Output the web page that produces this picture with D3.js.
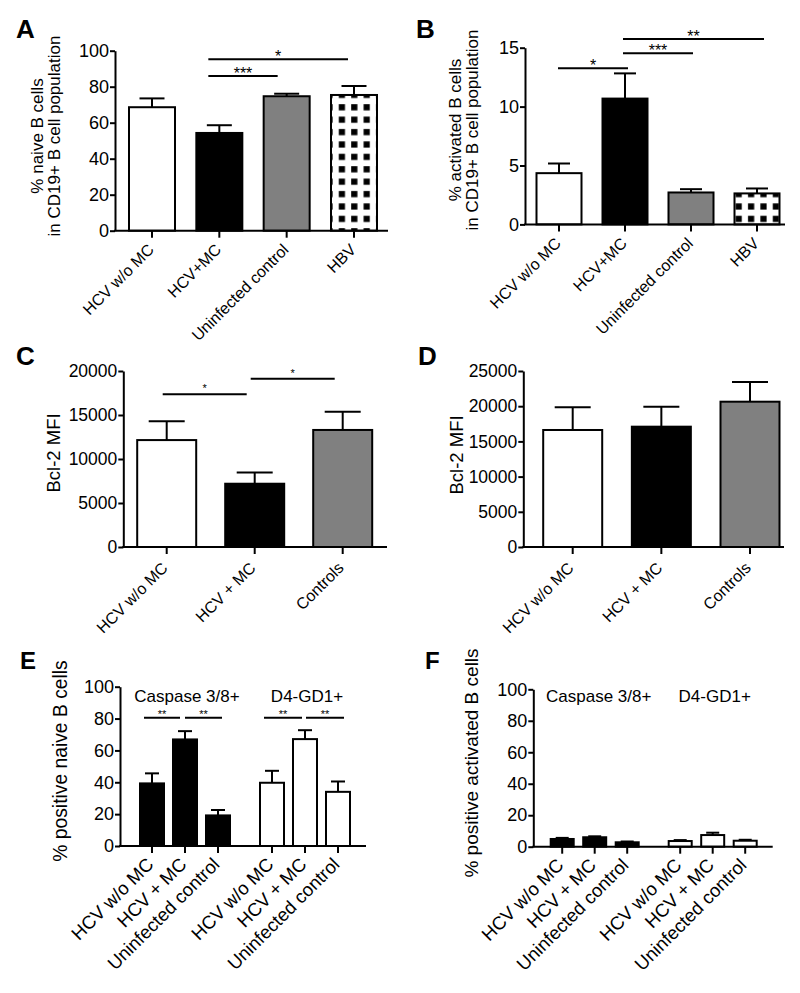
<!DOCTYPE html>
<html><head><meta charset="utf-8">
<script src="https://cdn.jsdelivr.net/npm/d3@7"></script>
<style>
body{margin:0;background:#fff}
svg{display:block}
text{font-family:"Liberation Sans",Arial,Helvetica,sans-serif;fill:#000}
</style>
</head><body>
<svg id="chart" width="800" height="993"></svg>
<script>
// ================= DATA =================
// Panel A – % naive B cells
const catsAB = ["HCV w/o MC", "HCV+MC", "Uninfected control", "HBV"];
const naiveMean  = [68.6, 54.3, 74.7, 75.4];
const naiveUpper = [73.5, 58.6, 76.1, 80.4];
const naiveTicks = [0, 20, 40, 60, 80, 100];
const naiveSig   = [[1, 2, "***", 85.9], [1, 3, "*", 95.2]];

// Panel B – % activated B cells
const activatedMean  = [4.35, 10.68, 2.71, 2.63];
const activatedUpper = [5.17, 12.82, 2.99, 3.05];
const activatedTicks = [0, 5, 10, 15];
const activatedSig   = [[0, 1, "*", 13.25], [1, 2, "***", 14.52], [1, 3, "**", 15.74]];

// Panel C – Bcl-2 MFI (naive)
const catsCD = ["HCV w/o MC", "HCV + MC", "Controls"];
const bcl2NaiveMean  = [12150, 7190, 13300];
const bcl2NaiveUpper = [14280, 8480, 15380];
const bcl2NaiveTicks = [0, 5000, 10000, 15000, 20000];
const bcl2NaiveSig   = [[0, 1, "*", 17350], [1, 2, "*", 19125]];

// Panel D – Bcl-2 MFI (activated)
const bcl2ActMean  = [16620, 17090, 20640];
const bcl2ActUpper = [19840, 19930, 23440];
const bcl2ActTicks = [0, 5000, 10000, 15000, 20000, 25000];

// Panels E / F – % positive
const groupsEF = ["Caspase 3/8+", "D4-GD1+"];
const catsEF   = ["HCV w/o MC", "HCV + MC", "Uninfected control"];
const pctTicks = [0, 20, 40, 60, 80, 100];
const naiveCaspMean  = [39.3, 66.9, 19.2];
const naiveCaspUpper = [45.6, 72.1, 22.6];
const naiveD4Mean    = [39.7, 67.1, 34.0];
const naiveD4Upper   = [47.2, 72.7, 40.5];
const naiveEFSig     = [[0, 1, "**", 80.5], [1, 2, "**", 80.5]];
const actCaspMean  = [4.9, 6.0, 2.8];
const actCaspUpper = [5.6, 6.6, 3.3];
const actD4Mean    = [3.6, 7.4, 3.8];
const actD4Upper   = [4.2, 8.9, 4.4];

// ================= DRAWING =================
const svg = d3.select("#chart");
const defs = svg.append("defs");
const pat = defs.append("pattern").attr("id", "checker")
  .attr("patternUnits", "userSpaceOnUse").attr("width", 12.4).attr("height", 12.4)
  .attr("x", 1).attr("y", 2);
pat.append("rect").attr("width", 12.4).attr("height", 12.4).attr("fill", "#fff");
pat.append("rect").attr("x", 3).attr("y", 3).attr("width", 6.2).attr("height", 6.2).attr("fill", "#000");

const FILLS = { white: "#fff", black: "#000", gray: "#808080", checker: "url(#checker)" };

function panel(cfg) {
  const g = svg.append("g");
  const y = d3.scaleLinear().domain([0, d3.max(cfg.ticks)]).range([cfg.y0, cfg.y1]);
  const items = cfg.items; // {x, mean, upper, fill, label}

  // bars
  g.selectAll("rect.bar").data(items).join("rect").attr("class", "bar")
    .attr("x", d => d.x - cfg.bw / 2).attr("y", d => y(d.mean))
    .attr("width", cfg.bw).attr("height", d => y(0) - y(d.mean))
    .attr("fill", d => FILLS[d.fill]).attr("stroke", "#000").attr("stroke-width", 2);
  // error bars
  g.selectAll("line.err").data(items).join("line").attr("class", "err")
    .attr("x1", d => d.x).attr("x2", d => d.x)
    .attr("y1", d => y(d.mean)).attr("y2", d => y(d.upper))
    .attr("stroke", "#000").attr("stroke-width", 2);
  g.selectAll("line.cap").data(items).join("line").attr("class", "cap")
    .attr("x1", d => d.x - cfg.cap / 2).attr("x2", d => d.x + cfg.cap / 2)
    .attr("y1", d => y(d.upper)).attr("y2", d => y(d.upper))
    .attr("stroke", "#000").attr("stroke-width", 2);

  // x axis line + ticks
  g.append("line").attr("x1", cfg.axisX - 1).attr("x2", cfg.axisRight)
    .attr("y1", y(0)).attr("y2", y(0)).attr("stroke", "#000").attr("stroke-width", 2);
  g.selectAll("line.xt").data(items).join("line").attr("class", "xt")
    .attr("x1", d => d.x).attr("x2", d => d.x)
    .attr("y1", y(0)).attr("y2", y(0) + 7).attr("stroke", "#000").attr("stroke-width", 2);
  g.selectAll("text.xl").data(items).join("text").attr("class", "xl")
    .attr("transform", d => `translate(${d.x + cfg.lblDx},${y(0) + cfg.lblDy}) rotate(-45)`)
    .attr("text-anchor", "end").attr("dy", "0.35em")
    .style("font-size", cfg.lblSize + "px").text(d => d.label);

  // y axis
  const ya = g.append("g").attr("transform", `translate(${cfg.axisX},0)`)
    .call(d3.axisLeft(y).tickValues(cfg.ticks).tickSize(5).tickPadding(1)
      .tickSizeOuter(0).tickFormat(d3.format("d")));
  ya.select(".domain").attr("stroke-width", 2);
  ya.selectAll(".tick line").attr("stroke-width", 2);
  ya.selectAll(".tick text").style("font-size", cfg.tickSize + "px")
    .style("font-family", '"Liberation Sans",Arial,sans-serif');

  // y label(s)
  cfg.ylab.forEach(l => {
    g.append("text").attr("transform", `translate(${l.x},${cfg.ylabY}) rotate(-90)`)
      .attr("text-anchor", "middle").attr("dy", "0.35em")
      .style("font-size", cfg.ylabSize + "px").text(l.t);
  });

  // significance bars
  (cfg.sig || []).forEach((s, k) => {
    const [i, j, lab, lvl] = s;
    const off = cfg.sigOff[k];
    const xs = cfg.sigX(i, off[0]), xe = cfg.sigX(j, off[1]);
    g.append("line").attr("x1", xs).attr("x2", xe).attr("y1", y(lvl)).attr("y2", y(lvl))
      .attr("stroke", "#000").attr("stroke-width", 2);
    g.append("text").attr("x", (xs + xe) / 2).attr("y", y(lvl) - cfg.starGap + 0.58 * cfg.starSize)
      .attr("text-anchor", "middle").style("font-size", cfg.starSize + "px").text(lab);
  });

  // group labels
  (cfg.groupLabels || []).forEach(gl => {
    g.append("text").attr("x", gl.x).attr("y", cfg.groupY).attr("text-anchor", "middle")
      .style("font-size", "17px").text(gl.t);
  });

  // panel letter
  g.append("text").attr("x", cfg.letter[1]).attr("y", cfg.letter[2])
    .style("font-size", cfg.letter[3] + "px").style("font-weight", "bold").text(cfg.letter[0]);
}

// ---------- Panel A ----------
{
  const x = d3.scalePoint().domain(catsAB).range([152, 354]);
  const fills = ["white", "black", "gray", "checker"];
  panel({
    y0: 230.7, y1: 50.7, ticks: naiveTicks, axisX: 115, axisRight: 388, bw: 46, cap: 25,
    items: catsAB.map((c, i) => ({ x: x(c), mean: naiveMean[i], upper: naiveUpper[i], fill: fills[i], label: c })),
    lblDx: -1, lblDy: 16, lblSize: 16, tickSize: 18,
    ylab: [{ x: 37, t: "% naive B cells" }, { x: 54.5, t: "in CD19+ B cell population" }], ylabY: 136, ylabSize: 17,
    sig: naiveSig, sigOff: [[-11, -9], [-11, -6]], sigX: (i, o) => x(catsAB[i]) + o, starGap: 6.5, starSize: 16,
    letter: ["A", 16, 38, 26]
  });
}
// ---------- Panel B ----------
{
  const x = d3.scalePoint().domain(catsAB).range([559, 757]);
  const fills = ["white", "black", "gray", "checker"];
  panel({
    y0: 224.4, y1: 47.7, ticks: activatedTicks, axisX: 525, axisRight: 785, bw: 45, cap: 22,
    items: catsAB.map((c, i) => ({ x: x(c), mean: activatedMean[i], upper: activatedUpper[i], fill: fills[i], label: c })),
    lblDx: -1, lblDy: 16, lblSize: 16, tickSize: 18,
    ylab: [{ x: 455, t: "% activated B cells" }, { x: 472.5, t: "in CD19+ B cell population" }], ylabY: 130, ylabSize: 17,
    sig: activatedSig, sigOff: [[-1, 3], [-2, 2], [-2, 7]], sigX: (i, o) => x(catsAB[i]) + o, starGap: 6.5, starSize: 16,
    letter: ["B", 416, 38, 26]
  });
}
// ---------- Panel C ----------
{
  const x = d3.scalePoint().domain(catsCD).range([166.7, 342.7]);
  const fills = ["white", "black", "gray"];
  panel({
    y0: 547, y1: 371, ticks: bcl2NaiveTicks, axisX: 123.3, axisRight: 387, bw: 59, cap: 36,
    items: catsCD.map((c, i) => ({ x: x(c), mean: bcl2NaiveMean[i], upper: bcl2NaiveUpper[i], fill: fills[i], label: c })),
    lblDx: -2, lblDy: 18, lblSize: 16, tickSize: 17.5,
    ylab: [{ x: 53.5, t: "Bcl-2 MFI" }], ylabY: 453, ylabSize: 18.5,
    sig: bcl2NaiveSig, sigOff: [[-4, -8], [-4, -8]], sigX: (i, o) => x(catsCD[i]) + o, starGap: 8.5, starSize: 11,
    letter: ["C", 16, 365, 26]
  });
}
// ---------- Panel D ----------
{
  const x = d3.scalePoint().domain(catsCD).range([572.7, 750]);
  const fills = ["white", "black", "gray"];
  panel({
    y0: 547, y1: 371, ticks: bcl2ActTicks, axisX: 523.3, axisRight: 784, bw: 59, cap: 36,
    items: catsCD.map((c, i) => ({ x: x(c), mean: bcl2ActMean[i], upper: bcl2ActUpper[i], fill: fills[i], label: c })),
    lblDx: -2, lblDy: 18, lblSize: 16, tickSize: 17.5,
    ylab: [{ x: 456.5, t: "Bcl-2 MFI" }], ylabY: 455, ylabSize: 18.5,
    letter: ["D", 418, 365, 26]
  });
}
// ---------- Panel E ----------
{
  const xg = d3.scalePoint().domain(groupsEF).range([185, 305]);
  const xi = d3.scalePoint().domain(catsEF).range([-33, 33]);
  const series = [[naiveCaspMean, naiveCaspUpper, "black"], [naiveD4Mean, naiveD4Upper, "white"]];
  const items = groupsEF.flatMap((gname, gi) => catsEF.map((c, ci) => ({
    x: xg(gname) + xi(c), mean: series[gi][0][ci], upper: series[gi][1][ci], fill: series[gi][2], label: c })));
  const sig = groupsEF.flatMap((gname, gi) => naiveEFSig.map(s => [gi * 3 + s[0], gi * 3 + s[1], s[2], s[3]]));
  panel({
    y0: 846, y1: 686.7, ticks: pctTicks, axisX: 120, axisRight: 366, bw: 24, cap: 14,
    items, lblDx: -2, lblDy: 15, lblSize: 18.5, tickSize: 18,
    ylab: [{ x: 60, t: "% positive naive B cells" }], ylabY: 761, ylabSize: 19.3,
    sig, sigOff: [[-8, -5], [0, 4], [-8, -3], [1, 6]], sigX: (i, o) => items[i].x + o, starGap: 6, starSize: 11,
    groupLabels: groupsEF.map(gname => ({ x: xg(gname) + 2, t: gname })), groupY: 702,
    letter: ["E", 20, 669, 24]
  });
}
// ---------- Panel F ----------
{
  const xg = d3.scalePoint().domain(groupsEF).range([594.7, 712.7]);
  const xi = d3.scalePoint().domain(catsEF).range([-32.5, 32.5]);
  const series = [[actCaspMean, actCaspUpper, "black"], [actD4Mean, actD4Upper, "white"]];
  const items = groupsEF.flatMap((gname, gi) => catsEF.map((c, ci) => ({
    x: xg(gname) + xi(c), mean: series[gi][0][ci], upper: series[gi][1][ci], fill: series[gi][2], label: c })));
  panel({
    y0: 846.7, y1: 689.3, ticks: pctTicks, axisX: 533.3, axisRight: 772.7, bw: 23, cap: 13,
    items, lblDx: -2, lblDy: 15, lblSize: 18.5, tickSize: 18,
    ylab: [{ x: 471.5, t: "% positive activated B cells" }], ylabY: 763, ylabSize: 19,
    groupLabels: groupsEF.map((gname, gi) => ({ x: xg(gname) + (gi ? 2 : 4), t: gname })), groupY: 702,
    letter: ["F", 425, 669, 24]
  });
}
</script>
</body></html>
